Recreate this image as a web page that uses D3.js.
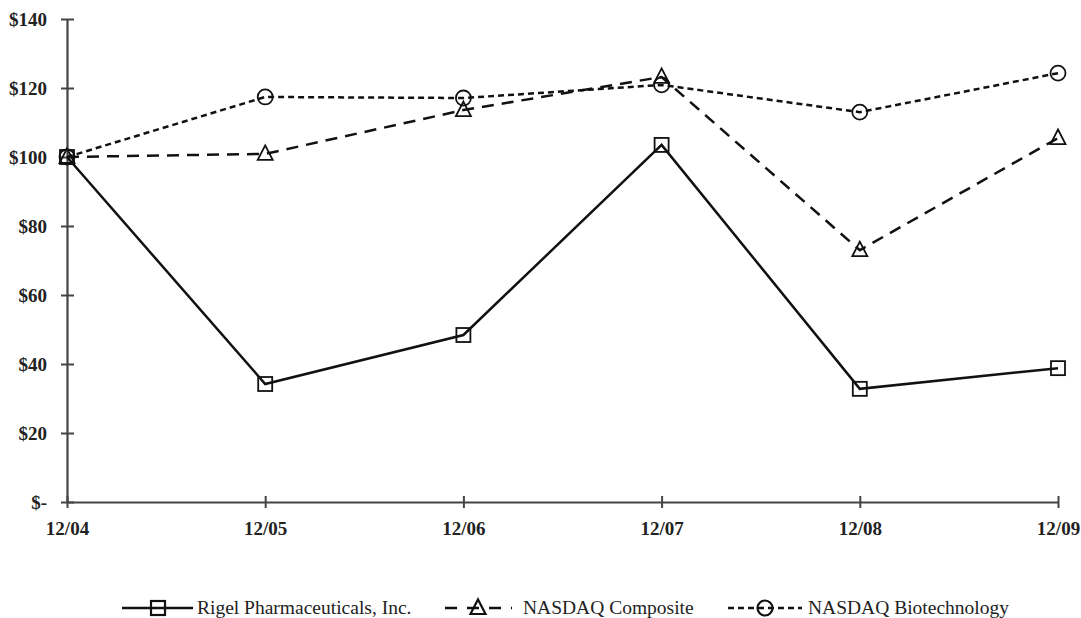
<!DOCTYPE html>
<html><head><meta charset="utf-8">
<script src="https://cdn.jsdelivr.net/npm/d3@7"></script>
<style>body{margin:0;background:#fff}svg{display:block}
text{font-family:"Liberation Serif","Times New Roman",Times,"DejaVu Serif",serif}</style>
</head><body>
<script>
const categories = ["12/04","12/05","12/06","12/07","12/08","12/09"];
const rigel = [100, 34.2, 48.4, 103.5, 32.8, 38.8];
const composite = [100, 100.9, 113.6, 123.2, 73.0, 105.5];
const biotech = [100, 117.4, 117.1, 120.9, 113.0, 124.3];
const yTicks = [0,20,40,60,80,100,120,140];
const yTickLabels = ["$-","$20","$40","$60","$80","$100","$120","$140"];
const seriesNames = ["Rigel Pharmaceuticals, Inc.","NASDAQ Composite","NASDAQ Biotechnology"];

const W=1081,H=618;
const svg=d3.select("body").append("svg").attr("width",W).attr("height",H);
const x=d3.scalePoint().domain(categories).range([67,1058]);
const y=d3.scaleLinear().domain([0,140]).range([502,19]);
const axisColor="#444";

// y axis
const ya=svg.append("g").attr("transform","translate(67,0)")
 .call(d3.axisLeft(y).tickValues(yTicks).tickFormat((d,i)=>yTickLabels[i]).tickSizeInner(6).tickSizeOuter(0));
ya.attr("font-family",null);
ya.select(".domain").attr("stroke",axisColor).attr("stroke-width",2.2);
ya.selectAll(".tick line").attr("stroke",axisColor).attr("stroke-width",2).attr("x2",7).attr("x1",-6);
ya.selectAll(".tick text").attr("font-weight","bold").attr("font-size",19).attr("fill","#222").attr("x",-20);

// x axis
const xa=svg.append("g").attr("transform","translate(0,502)")
 .call(d3.axisBottom(x).tickSizeInner(6).tickSizeOuter(0));
xa.attr("font-family",null);
xa.select(".domain").attr("stroke",axisColor).attr("stroke-width",2.2);
xa.selectAll(".tick line").attr("stroke",axisColor).attr("stroke-width",2).attr("y1",-6).attr("y2",6);
xa.selectAll(".tick text").attr("font-weight","bold").attr("font-size",19).attr("fill","#222").attr("y",33).attr("dy",0);

const series=[
 {name:seriesNames[0],vals:rigel,dash:null,marker:"square"},
 {name:seriesNames[1],vals:composite,dash:"12,8",marker:"triangle"},
 {name:seriesNames[2],vals:biotech,dash:"6,4",marker:"circle"}
];
const line=d3.line().x((d,i)=>x(categories[i])).y(d=>y(d));
function drawMarker(g,type,cx,cy){
  if(type==="square") g.append("rect").attr("x",cx-7).attr("y",cy-7).attr("width",14).attr("height",14);
  else if(type==="triangle") g.append("path").attr("d",`M${cx},${cy-8.5}L${cx+7.5},${cy+6}L${cx-7.5},${cy+6}Z`);
  else g.append("circle").attr("cx",cx).attr("cy",cy).attr("r",7.5);
}
series.forEach(s=>{
  svg.append("path").datum(s.vals).attr("d",line).attr("fill","none").attr("stroke","#111")
   .attr("stroke-width",2.5).attr("stroke-dasharray",s.dash);
  const g=svg.append("g").attr("fill","none").attr("stroke","#111").attr("stroke-width",1.8);
  s.vals.forEach((v,i)=>drawMarker(g,s.marker,x(categories[i]),y(v)));
});

// legend
const leg=[{x1:122,x2:193,m:158,tx:197,dash:null},
           {x1:445,x2:512,m:478,tx:523,dash:"12,10"},
           {x1:728,x2:802,m:765,tx:808,dash:"6,4"}];
series.forEach((s,i)=>{
  const L=leg[i], ly=608;
  svg.append("line").attr("x1",L.x1).attr("x2",L.x2).attr("y1",ly).attr("y2",ly)
   .attr("stroke","#111").attr("stroke-width",2.5).attr("stroke-dasharray",L.dash);
  const g=svg.append("g").attr("fill","none").attr("stroke","#111").attr("stroke-width",2.2);
  drawMarker(g,s.marker,L.m,ly);
  svg.append("text").attr("x",L.tx).attr("y",ly+6).attr("font-size",19.5).attr("fill","#222").text(s.name);
});
</script>
</body></html>
